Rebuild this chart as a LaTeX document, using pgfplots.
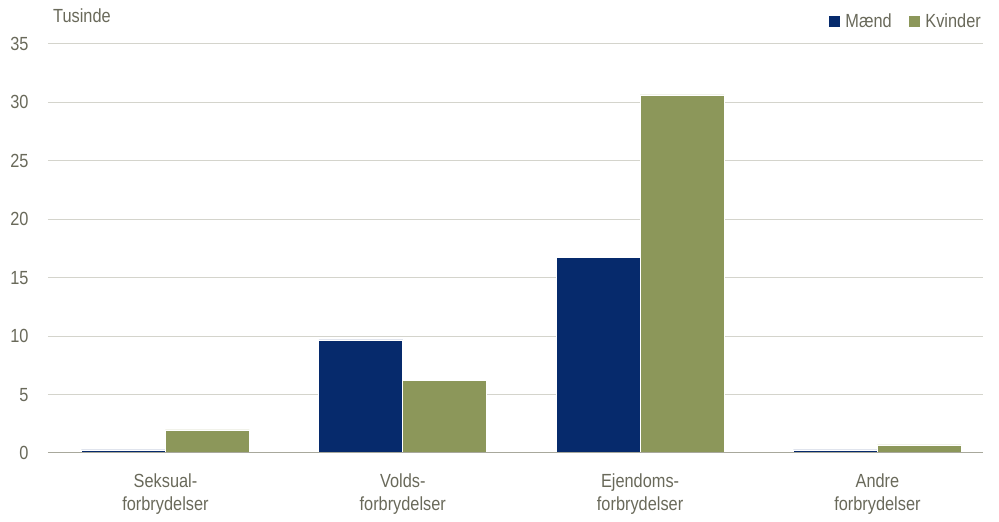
\documentclass[border=0pt]{standalone}
\usepackage{fontspec}
\setmainfont{Liberation Sans}[FakeStretch=0.86]
\usepackage{pgfplots}
\pgfplotsset{compat=1.18}
\definecolor{maend}{RGB}{6,42,108}
\definecolor{kvinder}{RGB}{140,151,90}
\definecolor{txt}{RGB}{105,105,90}
\definecolor{gridc}{RGB}{212,212,204}
\definecolor{axc}{RGB}{168,168,156}
\begin{document}
\begin{tikzpicture}
\begin{axis}[
  at={(0pt,0pt)}, anchor=south west,
  scale only axis, width=935pt, height=409pt,
  ybar=0pt, bar width=84pt,
  xmin=-0.495, xmax=3.445, ymin=0, ymax=35,
  xtick={0,1,2,3},
  xticklabels={{Seksual-\\forbrydelser},{Volds-\\forbrydelser},{Ejendoms-\\forbrydelser},{Andre\\forbrydelser}},
  ytick={0,5,...,35},
  major tick length=0pt,
  axis line style={draw=none},
  ymajorgrids, grid style={gridc, line width=1pt},
  font=\fontsize{19}{23}\selectfont,
  tick label style={text=txt},
  /pgf/number format/assume math mode=true,
  yticklabel style={anchor=east, xshift=-16pt},
  xticklabel style={align=center, anchor=north, yshift=-17pt, text=txt},
  legend style={at={(rel axis cs:1,1)}, anchor=south east, draw=none, fill=none,
    legend columns=2, font=\fontsize{19}{20}\selectfont\color{txt},
    /tikz/every odd column/.append style={column sep=3pt},
    /tikz/every even column/.append style={column sep=14pt}, yshift=11pt, xshift=3pt},
  legend image code/.code={\fill[#1] (0pt,-6.5pt) rectangle (12pt,6pt);},
  clip=false,
]
\addplot[fill=maend, draw=white, line width=0.6pt] coordinates {(0,0.27) (1,9.68) (2,16.72) (3,0.27)};
\addplot[fill=kvinder, draw=white, line width=0.6pt] coordinates {(0,1.97) (1,6.22) (2,30.65) (3,0.7)};
\legend{Mænd,Kvinder}
\draw[axc, line width=1pt] (rel axis cs:0,0) -- (rel axis cs:1,0);
\node[anchor=base west, inner sep=0pt, text=txt, font=\fontsize{19}{20}\selectfont] at ([xshift=5pt,yshift=21pt]rel axis cs:0,1) {Tusinde};
\end{axis}
\pgfresetboundingbox
\path[use as bounding box] (-48pt,-69pt) rectangle (951pt,453pt);
\end{tikzpicture}
\end{document}
